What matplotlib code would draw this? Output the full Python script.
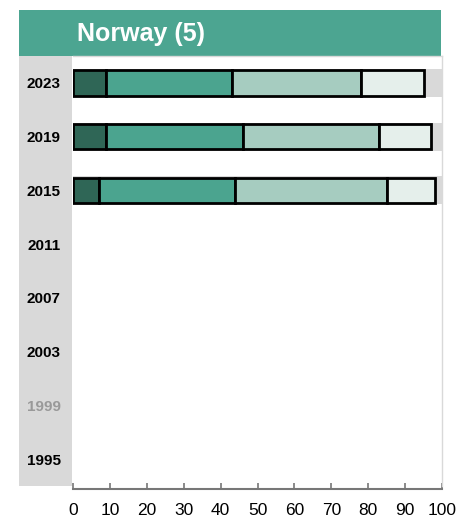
import matplotlib.pyplot as plt
from matplotlib.patches import Rectangle

plt.rcParams['font.family'] = ['Liberation Sans', 'DejaVu Sans']

# data
years = ['2023', '2019', '2015', '2011', '2007', '2003', '1999', '1995']
seg1 = [9, 9, 7, 0, 0, 0, 0, 0]
seg2 = [34, 37, 37, 0, 0, 0, 0, 0]
seg3 = [35, 37, 41, 0, 0, 0, 0, 0]
seg4 = [17, 14, 13, 0, 0, 0, 0, 0]
has_data = [True, True, True, False, False, False, False, False]
muted = ['1999']

COLORS = ['#2f6656', '#4ba48f', '#a6ccc0', '#e5efeb']
W, H = 472, 517

fig = plt.figure(figsize=(W / 100, H / 100), dpi=100)
fig.patch.set_facecolor('white')

# left grey panel and title band
fig.add_artist(Rectangle((19 / W, 1 - 486 / H), 53 / W, 430 / H,
                         transform=fig.transFigure, fc='#d9d9d9', ec='none', zorder=0))
fig.add_artist(Rectangle((19 / W, 1 - 56 / H), 422 / W, 46 / H,
                         transform=fig.transFigure, fc='#4ca591', ec='none', zorder=0))
fig.text(77 / W, 1 - 34 / H, 'Norway (5)', color='white', fontsize=18,
         fontweight='bold', va='center', ha='left')

ax = fig.add_axes([73 / W, 1 - 486 / H, 369 / W, 430 / H])
ax.set_facecolor('white')

ypos = list(range(len(years)))
for i, ok in enumerate(has_data):
    if ok:
        ax.barh(i, 100, height=0.52, color='#d9d9d9', edgecolor='none', zorder=1)

left = [0] * len(years)
for vals, c in zip([seg1, seg2, seg3, seg4], COLORS):
    v = [x if ok else 0 for x, ok in zip(vals, has_data)]
    ax.barh(ypos, v, left=left, height=0.47, color=c, edgecolor='black',
            linewidth=2, zorder=2)
    left = [a + b for a, b in zip(left, v)]
    # hide empty bars
    for p, ok in zip(ax.patches[-len(years):], has_data):
        p.set_visible(ok)

ax.set_xlim(0, 100)
ax.set_ylim(len(years) - 0.5, -0.5)
ax.set_yticks(ypos)
ax.set_yticklabels(years, fontsize=11, fontweight='bold')
for lbl in ax.get_yticklabels():
    lbl.set_color('#999999' if lbl.get_text() in muted else 'black')
ax.tick_params(axis='y', length=0, pad=9)

ax.set_xticks(range(0, 101, 10))
ax.tick_params(axis='x', direction='in', length=4, width=1.2, color='#777777',
               labelsize=12.5, pad=10)

for s in ['top', 'right']:
    ax.spines[s].set_color('#d9d9d9')
    ax.spines[s].set_linewidth(1)
ax.spines['left'].set_visible(False)
ax.spines['bottom'].set_color('#777777')
ax.spines['bottom'].set_linewidth(1.5)
ax.spines['bottom'].set_position(('outward', 2))

fig.savefig('out.png', dpi=100, facecolor='white')
